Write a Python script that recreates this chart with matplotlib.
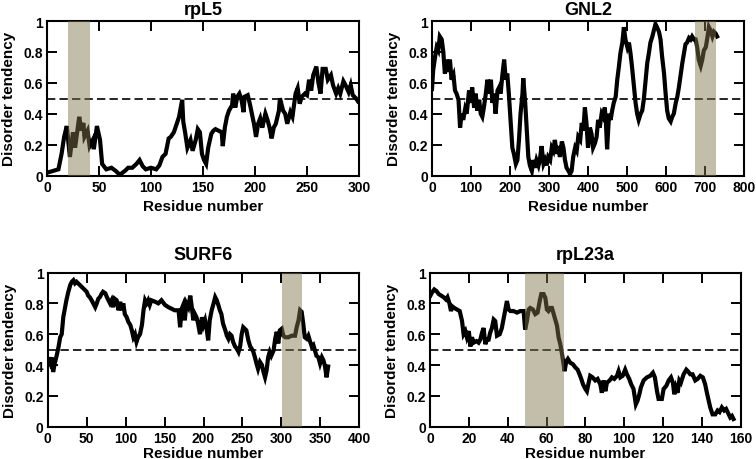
import matplotlib
matplotlib.use("Agg")
import matplotlib.pyplot as plt

plt.rcParams['font.family'] = ['Liberation Sans', 'DejaVu Sans']
plt.rcParams['font.weight'] = 'bold'

titles = ["rpL5", "GNL2", "SURF6", "rpL23a"]
x_max = [300, 800, 400, 160]
x_step = [50, 100, 50, 20]
shade_regions = [(20, 41), (674, 728), (301, 327), (49, 69)]
threshold = 0.495

rpl5_res = [0, 1, 6, 11, 14, 16.5, 19, 22, 25, 27, 31, 33, 35, 36, 39, 41, 44, 45, 48, 51, 53, 57, 62, 66, 70,
            75, 78, 82, 86, 89, 92, 95, 100, 105, 108, 111, 114, 117, 119, 122, 125, 127, 130, 131, 133, 135,
            138, 140, 143, 145, 147, 149, 151, 153, 155, 158, 160, 162, 165, 168, 169, 171, 173, 175, 178, 179,
            181, 183, 185, 187, 189, 190, 193, 195, 197, 199, 201, 203, 205, 207, 210, 212, 214, 216, 218, 220,
            223, 224, 227, 229, 231, 234, 236, 239, 241, 243, 245, 248, 250, 252, 254, 256, 259, 261, 263, 265,
            268, 270, 273, 275, 278, 280, 282, 285, 287, 290, 292, 294, 297, 299]
rpl5_val = [0.02, 0.02, 0.03, 0.04, 0.14, 0.25, 0.32, 0.12, 0.28, 0.18, 0.38, 0.29, 0.34, 0.25, 0.29, 0.19, 0.23,
            0.17, 0.32, 0.23, 0.075, 0.04, 0.05, 0.03, 0.005, 0.03, 0.05, 0.05, 0.075, 0.10, 0.06, 0.04, 0.05,
            0.04, 0.065, 0.12, 0.14, 0.24, 0.25, 0.28, 0.34, 0.38, 0.49, 0.35, 0.27, 0.18, 0.23, 0.16, 0.23, 0.30,
            0.28, 0.14, 0.10, 0.075, 0.18, 0.27, 0.29, 0.30, 0.29, 0.28, 0.19, 0.31, 0.38, 0.42, 0.455, 0.53,
            0.44, 0.51, 0.53, 0.49, 0.41, 0.51, 0.52, 0.465, 0.40, 0.335, 0.25, 0.335, 0.37, 0.31, 0.40, 0.36,
            0.31, 0.24, 0.31, 0.335, 0.42, 0.50, 0.42, 0.40, 0.335, 0.41, 0.38, 0.53, 0.565, 0.465, 0.51, 0.53,
            0.52, 0.62, 0.55, 0.65, 0.705, 0.60, 0.53, 0.69, 0.69, 0.62, 0.65, 0.585, 0.53, 0.565, 0.53, 0.61,
            0.585, 0.54, 0.585, 0.52, 0.50, 0.48]

gnl2_res = [0, 3, 8, 12, 16, 20, 25, 29, 33, 38, 42, 46, 50, 55, 59, 63, 68, 72, 76, 80, 85, 89, 95, 99, 103,
            108, 112, 116, 121, 125, 129, 133, 138, 142, 146, 151, 155, 159, 163, 168, 172, 176, 180, 185, 189,
            193, 197, 202, 206, 210, 215, 219, 223, 227, 232, 234, 239, 243, 247, 251, 256, 260, 264, 268, 273,
            277, 281, 286, 290, 294, 298, 303, 307, 311, 315, 320, 324, 328, 333, 337, 341, 345, 350, 354, 358,
            362, 367, 371, 375, 380, 384, 388, 392, 396, 400, 405, 409, 413, 418, 422, 426, 430, 435, 439, 443,
            446, 449, 454, 458, 462, 466, 471, 475, 479, 483, 488, 492, 496, 501, 505, 509, 513, 518, 522, 526,
            530, 535, 539, 543, 548, 552, 556, 560, 565, 569, 573, 577, 582, 586, 590, 595, 599, 603, 607, 612,
            616, 620, 625, 629, 633, 637, 642, 646, 650, 654, 659, 663, 667, 672, 676, 680, 684, 689, 693, 697,
            702, 706, 710, 714, 719, 723, 727, 731]
gnl2_val = [0.56, 0.68, 0.77, 0.83, 0.81, 0.90, 0.88, 0.80, 0.66, 0.75, 0.67, 0.75, 0.62, 0.65, 0.55, 0.53,
            0.49, 0.31, 0.40, 0.36, 0.43, 0.40, 0.55, 0.47, 0.57, 0.44, 0.53, 0.42, 0.49, 0.40, 0.38, 0.44, 0.53,
            0.62, 0.53, 0.62, 0.47, 0.53, 0.40, 0.55, 0.57, 0.53, 0.64, 0.75, 0.62, 0.66, 0.53, 0.34, 0.18, 0.14,
            0.075, 0.10, 0.23, 0.40, 0.53, 0.63, 0.47, 0.29, 0.12, 0.065, 0.03, 0.10, 0.05, 0.10, 0.065, 0.11,
            0.19, 0.075, 0.10, 0.065, 0.12, 0.10, 0.18, 0.16, 0.23, 0.14, 0.19, 0.12, 0.22, 0.18, 0.10, 0.05,
            0.03, 0.01, 0.03, 0.12, 0.18, 0.16, 0.25, 0.23, 0.34, 0.29, 0.44, 0.34, 0.18, 0.31, 0.27, 0.18, 0.21,
            0.25, 0.36, 0.31, 0.40, 0.38, 0.44, 0.34, 0.17, 0.40, 0.36, 0.42, 0.47, 0.51, 0.62, 0.70, 0.79, 0.86,
            0.96, 0.88, 0.83, 0.86, 0.79, 0.70, 0.57, 0.47, 0.40, 0.36, 0.40, 0.42, 0.49, 0.62, 0.73, 0.79, 0.86,
            0.90, 0.94, 0.98, 0.96, 0.93, 0.88, 0.77, 0.66, 0.53, 0.42, 0.37, 0.35, 0.38, 0.40, 0.47, 0.51, 0.57,
            0.64, 0.73, 0.79, 0.85, 0.86, 0.89, 0.88, 0.90, 0.88, 0.88, 0.83, 0.75, 0.71, 0.75, 0.81, 0.83, 0.89,
            0.96, 0.94, 0.90, 0.93, 0.92, 0.90]

surf6_res = [0, 3, 5, 7, 9, 11.5, 14, 16, 18, 20, 22, 24, 26.5, 29, 31, 33, 35, 37, 39, 41, 44, 46, 48, 50, 52,
             54, 56.4, 58.5, 61, 63, 65, 67, 69, 71, 74, 76, 78, 80, 82, 84, 86, 88.5, 91, 93, 95, 97, 99, 101.4,
             103.5, 106, 108, 110, 112, 114, 116, 118.5, 121, 123, 125, 127, 129, 131, 133, 138, 142, 146, 150.5,
             155, 159, 163, 168, 170, 172, 174, 176, 178, 180.5, 183, 185, 187, 189, 191, 193, 195.5, 198, 200,
             202, 204, 206, 208, 210.5, 213, 215, 217, 219, 221, 223, 225, 228, 230, 232, 234, 236, 238, 240.5,
             243, 245, 247, 249, 251, 253, 255, 257.6, 260, 262, 264, 266, 268, 270, 272.5, 275, 277, 279, 281,
             283, 285, 287, 290, 292, 294, 296, 298, 300.4, 302.5, 305, 309, 313, 317.5, 319.6, 322, 324, 326,
             328, 330, 332.5, 334.6, 337, 339, 341, 343, 345, 347.5, 349.6, 352, 354, 356, 358, 360]
surf6_val = [0.44, 0.41, 0.45, 0.355, 0.41, 0.46, 0.52, 0.58, 0.60, 0.71, 0.765, 0.82, 0.875, 0.92, 0.94, 0.95,
             0.93, 0.94, 0.93, 0.92, 0.905, 0.895, 0.885, 0.875, 0.85, 0.84, 0.82, 0.80, 0.775, 0.80, 0.83, 0.84,
             0.86, 0.875, 0.865, 0.84, 0.82, 0.80, 0.82, 0.775, 0.83, 0.82, 0.755, 0.81, 0.755, 0.80, 0.73, 0.71,
             0.68, 0.66, 0.625, 0.58, 0.60, 0.55, 0.58, 0.60, 0.66, 0.755, 0.82, 0.80, 0.82, 0.79, 0.82, 0.81,
             0.80, 0.82, 0.79, 0.775, 0.765, 0.755, 0.755, 0.645, 0.765, 0.79, 0.69, 0.80, 0.775, 0.85, 0.775,
             0.69, 0.73, 0.71, 0.67, 0.60, 0.71, 0.66, 0.69, 0.635, 0.56, 0.69, 0.755, 0.80, 0.84, 0.82, 0.79,
             0.755, 0.73, 0.67, 0.625, 0.59, 0.57, 0.60, 0.59, 0.55, 0.52, 0.505, 0.485, 0.52, 0.60, 0.645,
             0.635, 0.625, 0.56, 0.52, 0.505, 0.485, 0.45, 0.41, 0.375, 0.42, 0.40, 0.355, 0.32, 0.365, 0.45,
             0.485, 0.46, 0.495, 0.57, 0.615, 0.54, 0.625, 0.635, 0.59, 0.58, 0.58, 0.59, 0.59, 0.645, 0.69,
             0.755, 0.745, 0.67, 0.58, 0.57, 0.59, 0.55, 0.52, 0.53, 0.495, 0.46, 0.45, 0.41, 0.45, 0.43, 0.39,
             0.32, 0.39]

rpl23a_res = [0.2, 1, 2.2, 3.3, 4.5, 5.7, 7, 8.2, 9, 10, 10.8, 11.5, 12.5, 13.9, 15.3, 16.5, 17.3, 18.2, 19,
              20, 20.8, 21.6, 22.5, 23.9, 25, 25.9, 26.8, 27.6, 28.5, 29.3, 30.2, 31, 31.9, 32.8, 33.6, 34.5,
              35.9, 37, 38, 38.8, 39.6, 40.5, 41.4, 43, 44.8, 46.5, 48.2, 49, 49.9, 50.8, 51.6, 53, 54.2, 55.4,
              56.5, 57.3, 58.5, 59.4, 60.2, 61, 62, 62.8, 63.7, 64.5, 65.4, 66.2, 67.1, 68, 68.8, 69.3, 70.2, 71,
              72.2, 73.6, 74.8, 76, 77, 77.9, 78.8, 80, 80.8, 81.7, 82.5, 83.7, 85.1, 86.3, 87.7, 88.5, 89.4,
              90.3, 91.1, 92.5, 93.7, 94.9, 96.3, 97.1, 98, 99.2, 100.5, 101.4, 102.6, 103.6, 104.8, 106, 106.9,
              107.8, 108.6, 110, 111.7, 113.4, 114.8, 115.8, 116.9, 117.7, 119.4, 120.3, 121.7, 122.9, 124.1,
              125.1, 125.8, 126.6, 127.5, 128.4, 129.2, 130.6, 132, 132.8, 134, 135.2, 136.6, 137.8, 139.2,
              140.5, 141.7, 142.6, 143.5, 144.3, 145.5, 146.9, 148.1, 149.1, 150.3, 151.5, 152.5, 153.8, 154.6,
              155.5, 156.3]
rpl23a_val = [0.85, 0.87, 0.89, 0.88, 0.86, 0.85, 0.84, 0.825, 0.84, 0.80, 0.75, 0.78, 0.77, 0.76, 0.75, 0.685,
              0.60, 0.62, 0.58, 0.62, 0.52, 0.58, 0.545, 0.555, 0.545, 0.565, 0.61, 0.64, 0.535, 0.565, 0.565,
              0.61, 0.64, 0.695, 0.685, 0.59, 0.60, 0.64, 0.705, 0.76, 0.815, 0.76, 0.75, 0.75, 0.74, 0.75, 0.75,
              0.63, 0.685, 0.76, 0.77, 0.76, 0.73, 0.74, 0.815, 0.86, 0.86, 0.835, 0.76, 0.75, 0.77, 0.77, 0.73,
              0.695, 0.655, 0.58, 0.535, 0.47, 0.405, 0.36, 0.425, 0.44, 0.415, 0.405, 0.385, 0.37, 0.34, 0.31,
              0.275, 0.245, 0.23, 0.285, 0.33, 0.32, 0.30, 0.31, 0.275, 0.22, 0.30, 0.23, 0.285, 0.30, 0.32, 0.31,
              0.33, 0.36, 0.32, 0.33, 0.37, 0.34, 0.31, 0.275, 0.245, 0.145, 0.17, 0.21, 0.255, 0.30, 0.32, 0.33,
              0.35, 0.32, 0.23, 0.18, 0.18, 0.245, 0.265, 0.30, 0.32, 0.285, 0.21, 0.255, 0.22, 0.30, 0.285, 0.34,
              0.37, 0.36, 0.34, 0.34, 0.30, 0.31, 0.33, 0.32, 0.275, 0.22, 0.17, 0.125, 0.08, 0.08, 0.105, 0.095,
              0.125, 0.105, 0.115, 0.08, 0.06, 0.07, 0.05]

series = [(rpl5_res, rpl5_val), (gnl2_res, gnl2_val), (surf6_res, surf6_val), (rpl23a_res, rpl23a_val)]

W, H = 756, 460
fig = plt.figure(figsize=(W / 100, H / 100), dpi=100)
boxes = [(47, 22, 359, 176.5), (432, 22, 744, 176.5), (47.7, 273.5, 359.3, 427.7), (430, 273.5, 740.7, 427.7)]
title_pads = [5, 5, 10, 10]
xlabel_pads = [4, 4, 0.5, 0.5]

for i, (l, t, r, b) in enumerate(boxes):
    ax = fig.add_axes([l / W, 1 - b / H, (r - l) / W, (b - t) / H])
    xs, ys = series[i]
    ax.plot(xs, ys, color='black', lw=3.0, solid_joinstyle='miter', zorder=2)
    ax.axhline(threshold, color='black', lw=1.2, ls=(0, (5, 2.5)), zorder=1)
    s0, s1 = shade_regions[i]
    ax.axvspan(s0, s1, color=(128 / 255, 117 / 255, 74 / 255), alpha=0.47, lw=0, zorder=3)
    ax.set_xlim(0, x_max[i])
    ax.set_ylim(0, 1)
    ax.set_xticks(range(0, x_max[i] + 1, x_step[i]))
    ax.set_yticks([0, 0.2, 0.4, 0.6, 0.8, 1])
    ax.set_yticklabels(["0", "0.2", "0.4", "0.6", "0.8", "1"])
    ax.tick_params(direction='in', length=7, width=1.4, top=True, right=True, labelsize=10, pad=3)
    for lab in ax.get_xticklabels() + ax.get_yticklabels():
        lab.set_fontweight('bold')
    for sp in ax.spines.values():
        sp.set_linewidth(1.5)
    ax.set_title(titles[i], fontsize=13, fontweight='bold', pad=title_pads[i])
    ax.set_xlabel("Residue number", fontsize=11, fontweight='bold', labelpad=xlabel_pads[i])
    ax.set_ylabel("Disorder tendency", fontsize=11, fontweight='bold', labelpad=5)

fig.savefig("out.png", dpi=100)
